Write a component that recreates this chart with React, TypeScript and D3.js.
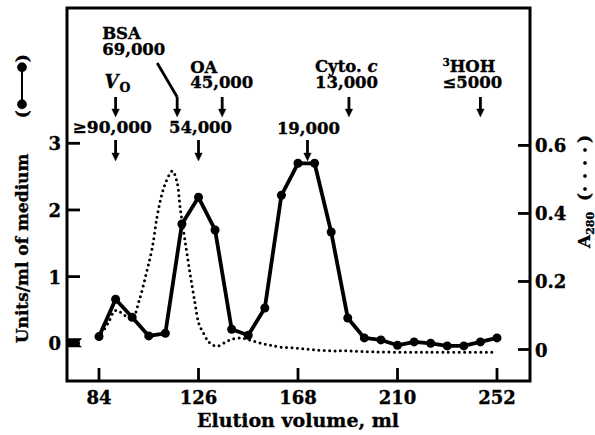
import React from "react";
import * as d3 from "d3";

// Gel filtration elution profile: enzyme activity (solid) and protein A280 (dotted)
const elutionMl = [84, 91, 98, 105, 112, 119, 126, 133, 140, 147, 154, 161, 168, 175, 182, 189, 196, 203, 210, 217, 224, 231, 238, 245, 252];
const unitsPerMl = [0.1, 0.66, 0.39, 0.11, 0.15, 1.79, 2.19, 1.7, 0.21, 0.12, 0.53, 2.22, 2.7, 2.7, 1.67, 0.38, 0.08, 0.05, -0.03, 0.02, 0.0, -0.04, -0.04, 0.02, 0.08];

const a280Ml = [84, 88, 91, 95, 98, 101, 104, 106.5, 108.5, 110.5, 112.7, 115, 117, 118.2, 120.3, 122.4, 124.5, 126.2, 128.5, 130, 132, 134, 137, 140, 144, 147.6, 152, 156, 160.6, 167.8, 174.5, 182, 189, 200, 215, 230, 252];
const a280 = [0.034, 0.08, 0.115, 0.1, 0.09, 0.145, 0.225, 0.3, 0.39, 0.455, 0.5, 0.525, 0.49, 0.42, 0.32, 0.225, 0.137, 0.075, 0.043, 0.025, 0.013, 0.01, 0.02, 0.03, 0.034, 0.028, 0.019, 0.013, 0.007, 0.004, -0.001, -0.004, -0.004, -0.007, -0.008, -0.008, -0.008];

const xTicks = [84, 126, 168, 210, 252];
const leftTicks = [0, 1, 2, 3];
const rightTicks = [0, 0.2, 0.4, 0.6];

// Size markers: elution position of each standard
const upperMarkers = [91, 117, 136, 189.5, 245];
const lowerMarkers = [91, 126, 172];

const W = 595;
const H = 435;
const frame = { left: 67, right: 530, top: 8, bottom: 381 };

const x = d3.scaleLinear().domain([70.49, 265.93]).range([frame.left, frame.right]);
const yL = d3.scaleLinear().domain([-0.566, 5.03]).range([frame.bottom, frame.top]);
const yR = d3.scaleLinear().domain([-0.0926, 1.004]).range([frame.bottom, frame.top]);

const FONT = "'DejaVu Serif', serif";

function Arrow({ cx, y1, y2 }: { cx: number; y1: number; y2: number }) {
  return (
    <g>
      <line x1={cx} x2={cx} y1={y1} y2={y2 - 6} stroke="#000" strokeWidth={2.8} />
      <path d={`M${cx - 3.8},${y2 - 8} L${cx + 3.8},${y2 - 8} L${cx},${y2} Z`} fill="#000" />
    </g>
  );
}

export default function App() {
  const solidLine = d3
    .line<number>()
    .x((_, i) => x(elutionMl[i]))
    .y((d) => yL(d))(unitsPerMl) as string;

  const dottedLine = d3
    .line<number>()
    .x((_, i) => x(a280Ml[i]))
    .y((d) => yR(d))
    .curve(d3.curveCatmullRom.alpha(0.5))(a280) as string;

  const [mVo, mBsa, mOa, mCyto, mHoh] = upperMarkers.map((v) => x(v));
  const [lVo, l54, l19] = lowerMarkers.map((v) => x(v));
  const upY1 = 97, upY2 = 117, loY1 = 140, loY2 = 161;

  const zeroMarkX = frame.left + 1;
  const zeroMarkY = yL(0);

  // heavier print weight for all lettering
  const ink = { stroke: "#000", strokeWidth: 0.35 };

  return (
    <svg width={W} height={H} style={{ position: "absolute", left: 0, top: 0, background: "#fff" }} fontFamily={FONT}>
      <rect width={W} height={H} fill="#fff" />

      {/* dotted A280 trace */}
      <path d={dottedLine} fill="none" stroke="#000" strokeWidth={3} strokeLinecap="round" strokeDasharray="0 5.4" />

      {/* activity trace */}
      <path d={solidLine} fill="none" stroke="#000" strokeWidth={3.8} strokeLinejoin="round" />
      {unitsPerMl.map((v, i) => (
        <circle key={i} cx={x(elutionMl[i])} cy={yL(v)} r={4.5} fill="#000" />
      ))}

      {/* frame */}
      <rect x={frame.left} y={frame.top} width={frame.right - frame.left} height={frame.bottom - frame.top} fill="none" stroke="#000" strokeWidth={3} />

      <g {...ink}>
        {/* x ticks */}
        {xTicks.map((t) => (
          <g key={t}>
            <line x1={x(t)} x2={x(t)} y1={frame.bottom} y2={frame.bottom - 13} stroke="#000" strokeWidth={2.8} />
            <text x={x(t)} y={404} textAnchor="middle" fontSize={18} fontWeight="bold">{t}</text>
          </g>
        ))}
        <text x={x(168)} y={427} textAnchor="middle" fontSize={19} fontWeight="bold">Elution volume, ml</text>

        {/* left ticks */}
        {leftTicks.map((t) => (
          <g key={t}>
            <line x1={frame.left} x2={frame.left + 13} y1={yL(t)} y2={yL(t)} stroke="#000" strokeWidth={2.8} />
            <text x={61} y={yL(t) + 7} textAnchor="end" fontSize={18} fontWeight="bold">{t}</text>
          </g>
        ))}

        {/* right ticks */}
        {rightTicks.map((t) => (
          <g key={t}>
            <line x1={frame.right} x2={frame.right - 12} y1={yR(t)} y2={yR(t)} stroke="#000" strokeWidth={2.8} />
            <text x={535} y={yR(t) + 7} textAnchor="start" fontSize={18} fontWeight="bold">{t === 0 ? "0" : t.toFixed(1)}</text>
          </g>
        ))}

        {/* left axis title with symbol key */}
        <g transform={`translate(28,${yL(0)}) rotate(-90)`}>
          <text x={0} y={0} fontSize={17} fontWeight="bold">Units/ml of medium</text>
          <text x={225} y={0} fontSize={17} fontWeight="bold">(</text>
          <line x1={239} x2={276} y1={-6} y2={-6} stroke="#000" strokeWidth={2} />
          <circle cx={239} cy={-6} r={4.7} fill="#000" />
          <circle cx={276} cy={-6} r={4.7} fill="#000" />
          <text x={281} y={0} fontSize={17} fontWeight="bold">)</text>
        </g>

        {/* right axis title with symbol key */}
        <g transform={`translate(590,248) rotate(-90)`}>
          <text x={0} y={0} fontSize={17} fontWeight="bold">
            A<tspan fontSize={11} dy={4}>280</tspan>
          </text>
          <text x={47} y={0} fontSize={17} fontWeight="bold">(</text>
          {[59, 72, 85, 98].map((p) => (
            <circle key={p} cx={p} cy={-5} r={1.7} fill="#000" />
          ))}
          <text x={105} y={0} fontSize={17} fontWeight="bold">)</text>
        </g>

        {/* standards */}
        <g fontSize={16.5} fontWeight="bold">
          <text x={mBsa - 75} y={39}>BSA</text>
          <text x={mBsa - 75} y={55}>69,000</text>
          <polyline points={`${mBsa - 20},${63} ${mBsa},${upY1}`} fill="none" stroke="#000" strokeWidth={2.8} />
          <Arrow cx={mBsa} y1={upY1} y2={upY2} />

          <text x={mVo - 11} y={88} fontStyle="italic" fontSize={18}>V</text>
          <text x={mVo + 4} y={92} fontSize={12.5}>O</text>
          <Arrow cx={mVo} y1={upY1} y2={upY2} />

          <text x={mOa - 32} y={73}>OA</text>
          <text x={mOa - 32} y={88}>45,000</text>
          <Arrow cx={mOa} y1={upY1} y2={upY2} />

          <text x={mCyto - 34} y={72}>Cyto. <tspan fontStyle="italic">c</tspan></text>
          <text x={mCyto - 34} y={88}>13,000</text>
          <Arrow cx={mCyto} y1={upY1} y2={upY2} />

          <text x={mHoh - 38} y={72}><tspan fontSize={10.5} dy={-6}>3</tspan><tspan dy={6}>HOH</tspan></text>
          <text x={mHoh - 38} y={88}>≤5000</text>
          <Arrow cx={mHoh} y1={upY1} y2={upY2} />

          <text x={lVo - 43} y={133} fontSize={17}>≥90,000</text>
          <Arrow cx={lVo} y1={loY1} y2={loY2} />

          <text x={l54 + 2} y={133} textAnchor="middle">54,000</text>
          <Arrow cx={l54} y1={loY1} y2={loY2} />

          <text x={l19 + 1} y={134} textAnchor="middle">19,000</text>
          <Arrow cx={l19} y1={loY1} y2={loY2} />
        </g>
      </g>

      <path
        d={`M${zeroMarkX},${zeroMarkY - 5} L${zeroMarkX + 14},${zeroMarkY - 5} L${zeroMarkX + 10},${zeroMarkY} L${zeroMarkX + 14},${zeroMarkY + 4} L${zeroMarkX},${zeroMarkY + 4} Z`}
        fill="#000"
      />
    </svg>
  );
}
